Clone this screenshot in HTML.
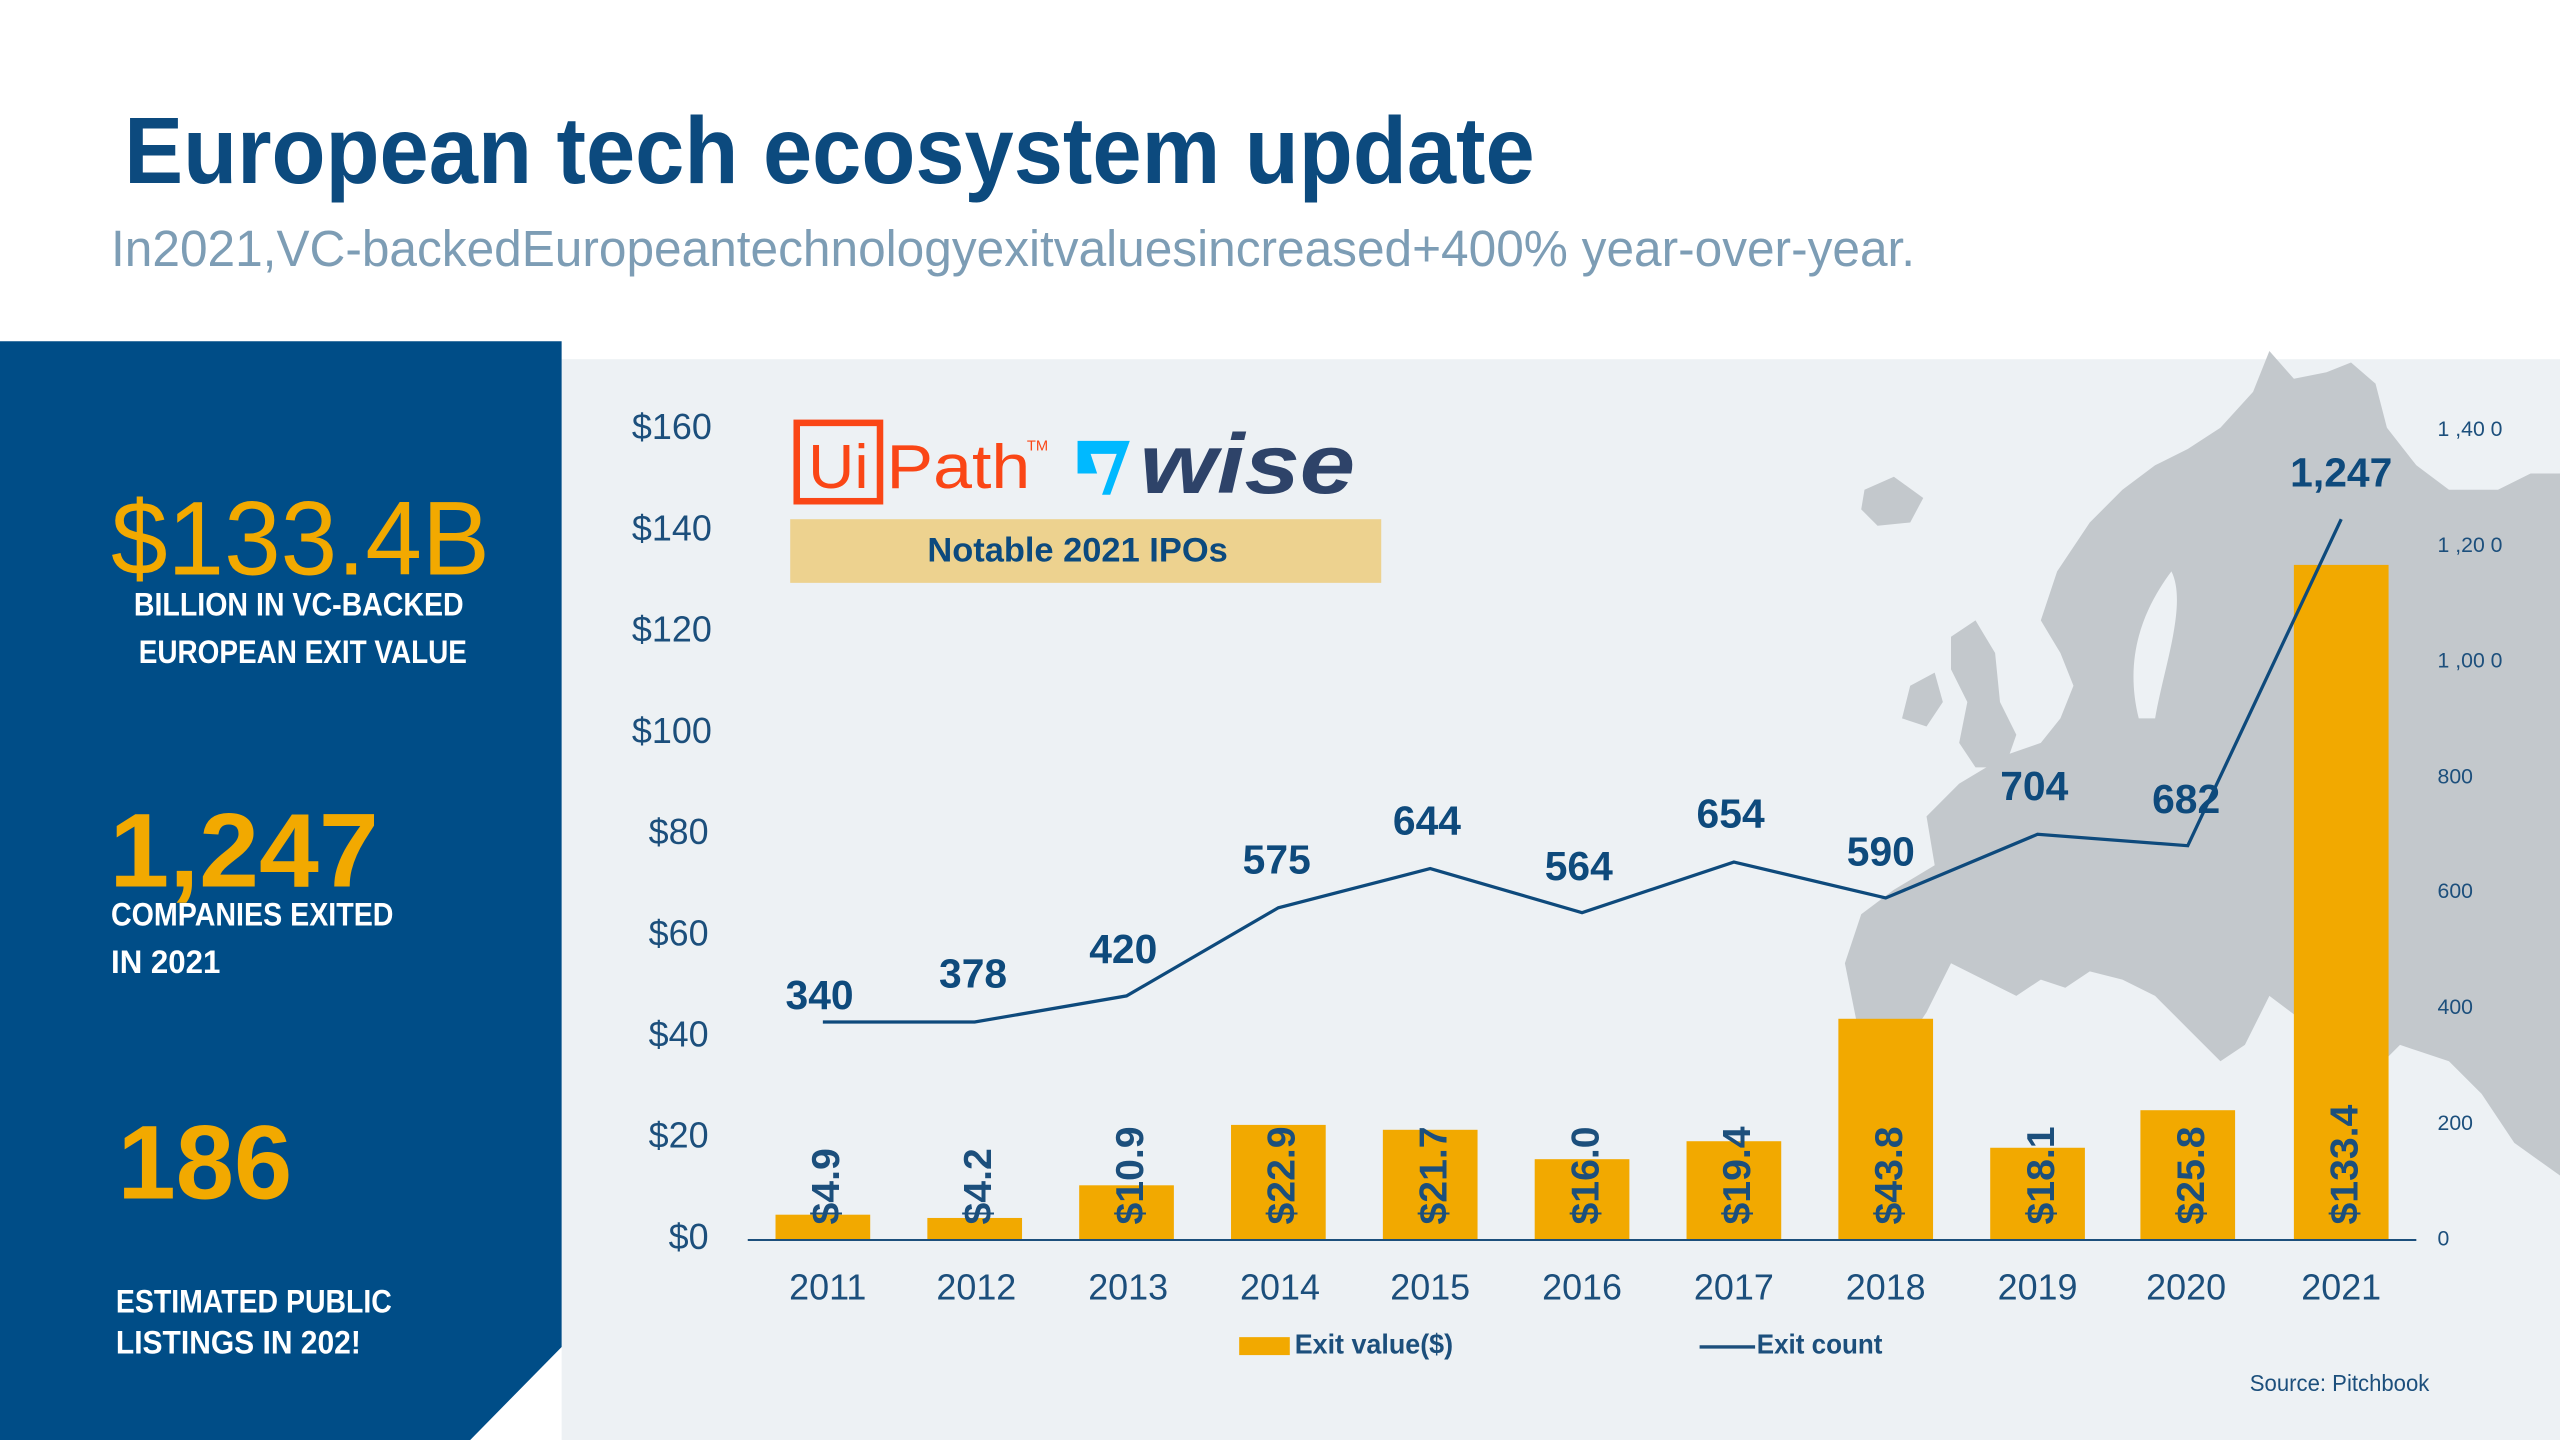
<!DOCTYPE html>
<html><head><meta charset="utf-8"><style>
html,body{margin:0;padding:0;background:#fff;}
svg{display:block;}
text{font-family:"Liberation Sans Narrow","Liberation Sans",sans-serif;}
</style></head><body>
<svg width="2560" height="1440" viewBox="0 0 1568 882" xmlns="http://www.w3.org/2000/svg">
<rect width="1568" height="882" fill="#fff"/>
<text x="76" y="112" font-size="58" font-weight="bold" fill="#0c4a7e" textLength="864" lengthAdjust="spacingAndGlyphs">European tech ecosystem update</text>
<text x="68" y="163" font-size="31" fill="#7d9db5" textLength="1105" lengthAdjust="spacingAndGlyphs">In2021,VC-backedEuropeantechnologyexitvaluesincreased+400% year-over-year.</text>
<rect x="344" y="220" width="1224" height="662" fill="#edf1f4"/>
<!-- map -->
<g fill="#c3c8cc">
<polygon points="1390,215 1405,232 1425,228 1440,222 1455,235 1462,262 1480,285 1500,300 1530,300 1550,290 1568,290 1568,720 1540,700 1520,670 1500,650 1470,640 1450,660 1430,650 1410,625 1390,610 1375,640 1360,650 1340,630 1320,610 1300,600 1280,595 1265,605 1250,600 1235,610 1215,600 1195,590 1180,620 1160,650 1140,640 1130,590 1140,560 1160,545 1185,530 1180,500 1200,480 1230,462 1250,455 1262,440 1270,420 1262,400 1250,380 1260,350 1280,320 1300,300 1320,285 1340,275 1360,262 1380,240"/>
<polygon points="1195,390 1210,380 1222,400 1225,430 1235,450 1228,470 1210,470 1200,455 1205,430 1195,410"/>
<polygon points="1170,420 1185,412 1190,430 1180,445 1165,440"/>
<polygon points="1142,300 1160,292 1178,305 1170,320 1150,322 1140,312"/>
</g>
<path d="M1310,440 C1300,400 1315,370 1330,350 C1340,370 1325,410 1320,440 Z" fill="#edf1f4"/>
<!-- left panel -->
<polygon points="0,209 344,209 344,825 288,882 0,882" fill="#004d87"/>
<text x="68" y="352" font-size="64" fill="#f2a900" textLength="232" lengthAdjust="spacingAndGlyphs">$133.4B</text>
<text x="82" y="377" font-size="20" font-weight="bold" fill="#fff" textLength="202" lengthAdjust="spacingAndGlyphs">BILLION IN VC-BACKED</text>
<text x="85" y="406" font-size="20" font-weight="bold" fill="#fff" textLength="201" lengthAdjust="spacingAndGlyphs">EUROPEAN EXIT VALUE</text>
<text x="67" y="543" font-size="64" font-weight="bold" fill="#f2a900" textLength="165" lengthAdjust="spacingAndGlyphs">1,247</text>
<text x="68" y="567" font-size="20" font-weight="bold" fill="#fff" textLength="173" lengthAdjust="spacingAndGlyphs">COMPANIES EXITED</text>
<text x="68" y="596" font-size="20" font-weight="bold" fill="#fff" textLength="67" lengthAdjust="spacingAndGlyphs">IN 2021</text>
<text x="72" y="734" font-size="64" font-weight="bold" fill="#f2a900" textLength="107" lengthAdjust="spacingAndGlyphs">186</text>
<text x="71" y="804" font-size="20" font-weight="bold" fill="#fff" textLength="169" lengthAdjust="spacingAndGlyphs">ESTIMATED PUBLIC</text>
<text x="71" y="829" font-size="20" font-weight="bold" fill="#fff" textLength="150" lengthAdjust="spacingAndGlyphs">LISTINGS IN 202!</text>
<!-- y axis labels -->
<g font-size="22" fill="#1c4f7c" text-anchor="end">
<text x="436" y="269">$160</text><text x="436" y="331">$140</text><text x="436" y="393">$120</text>
<text x="436" y="455">$100</text><text x="434" y="517">$80</text><text x="434" y="579">$60</text>
<text x="434" y="641">$40</text><text x="434" y="703">$20</text><text x="434" y="765">$0</text>
</g>
<g font-size="13" fill="#1c4f7c">
<text x="1493" y="267">1 ,40 0</text><text x="1493" y="338">1 ,20 0</text><text x="1493" y="409">1 ,00 0</text>
<text x="1493" y="480">800</text><text x="1493" y="550">600</text><text x="1493" y="621">400</text>
<text x="1493" y="692">200</text><text x="1493" y="763">0</text>
</g>
<!-- logos -->
<rect x="488" y="259" width="51" height="48" fill="none" stroke="#fa4616" stroke-width="4"/>
<text x="495" y="299" font-size="38" fill="#fa4616" textLength="37" lengthAdjust="spacingAndGlyphs">Ui</text>
<text x="543" y="299" font-size="38" fill="#fa4616" textLength="88" lengthAdjust="spacingAndGlyphs">Path</text>
<text x="629" y="276" font-size="9" fill="#fa4616">TM</text>
<polygon points="660,270 692,270 680,303 675,303 684,278 668,278 672,290 660,290" fill="#00b9ff"/>
<text x="698" y="302" font-size="52" font-weight="bold" font-style="italic" fill="#2e4369" textLength="132" lengthAdjust="spacingAndGlyphs">wise</text>
<rect x="484" y="318" width="362" height="39" fill="#edd28f"/>
<text x="660" y="344" font-size="21" font-weight="bold" fill="#0c4a7e" text-anchor="middle" textLength="184" lengthAdjust="spacingAndGlyphs">Notable 2021 IPOs</text>
<!-- bars -->
<g fill="#f2a900">
<rect x="475" y="744" width="58" height="15"/>
<rect x="568" y="746" width="58" height="13"/>
<rect x="661" y="726" width="58" height="33"/>
<rect x="754" y="689" width="58" height="70"/>
<rect x="847" y="692" width="58" height="67"/>
<rect x="940" y="710" width="58" height="49"/>
<rect x="1033" y="699" width="58" height="60"/>
<rect x="1126" y="624" width="58" height="135"/>
<rect x="1219" y="703" width="58" height="56"/>
<rect x="1311" y="680" width="58" height="79"/>
<rect x="1405" y="346" width="58" height="413"/>
</g>
<line x1="458" y1="759.5" x2="1480" y2="759.5" stroke="#1c4f7c" stroke-width="1.2"/>
<g font-size="24" font-weight="bold" fill="#1c4f7c">
<text transform="translate(514,750) rotate(-90)">$4.9</text>
<text transform="translate(607,750) rotate(-90)">$4.2</text>
<text transform="translate(700,750) rotate(-90)">$10.9</text>
<text transform="translate(793,750) rotate(-90)">$22.9</text>
<text transform="translate(886,750) rotate(-90)">$21.7</text>
<text transform="translate(979,750) rotate(-90)">$16.0</text>
<text transform="translate(1072,750) rotate(-90)">$19.4</text>
<text transform="translate(1165,750) rotate(-90)">$43.8</text>
<text transform="translate(1258,750) rotate(-90)">$18.1</text>
<text transform="translate(1350,750) rotate(-90)">$25.8</text>
<text transform="translate(1444,750) rotate(-90)">$133.4</text>
</g>
<polyline points="504,626 597,626 690,610 783,556 876,532 969,559 1062,528 1155,550 1248,511 1340,518 1434,318" fill="none" stroke="#0e4a7c" stroke-width="2"/>
<g font-size="25" font-weight="bold" fill="#0e4a7c" text-anchor="middle">
<text x="502" y="618">340</text><text x="596" y="605">378</text><text x="688" y="590">420</text>
<text x="782" y="535">575</text><text x="874" y="511">644</text><text x="967" y="539">564</text>
<text x="1060" y="507">654</text><text x="1152" y="530">590</text><text x="1246" y="490">704</text>
<text x="1339" y="498">682</text><text x="1434" y="298">1,247</text>
</g>
<g font-size="22" fill="#1c4f7c" text-anchor="middle">
<text x="507" y="796">2011</text><text x="598" y="796">2012</text><text x="691" y="796">2013</text>
<text x="784" y="796">2014</text><text x="876" y="796">2015</text><text x="969" y="796">2016</text>
<text x="1062" y="796">2017</text><text x="1155" y="796">2018</text><text x="1248" y="796">2019</text>
<text x="1339" y="796">2020</text><text x="1434" y="796">2021</text>
</g>
<rect x="759" y="819" width="31" height="11" fill="#f2a900"/>
<text x="793" y="829" font-size="17" font-weight="bold" fill="#1c4f7c" textLength="97" lengthAdjust="spacingAndGlyphs">Exit value($)</text>
<line x1="1041" y1="825" x2="1075" y2="825" stroke="#1c4f7c" stroke-width="2"/>
<text x="1076" y="829" font-size="17" font-weight="bold" fill="#1c4f7c" textLength="77" lengthAdjust="spacingAndGlyphs">Exit count</text>
<text x="1488" y="852" font-size="14" fill="#1c4f7c" text-anchor="end" textLength="110" lengthAdjust="spacingAndGlyphs">Source: Pitchbook</text>
</svg>
</body></html>
